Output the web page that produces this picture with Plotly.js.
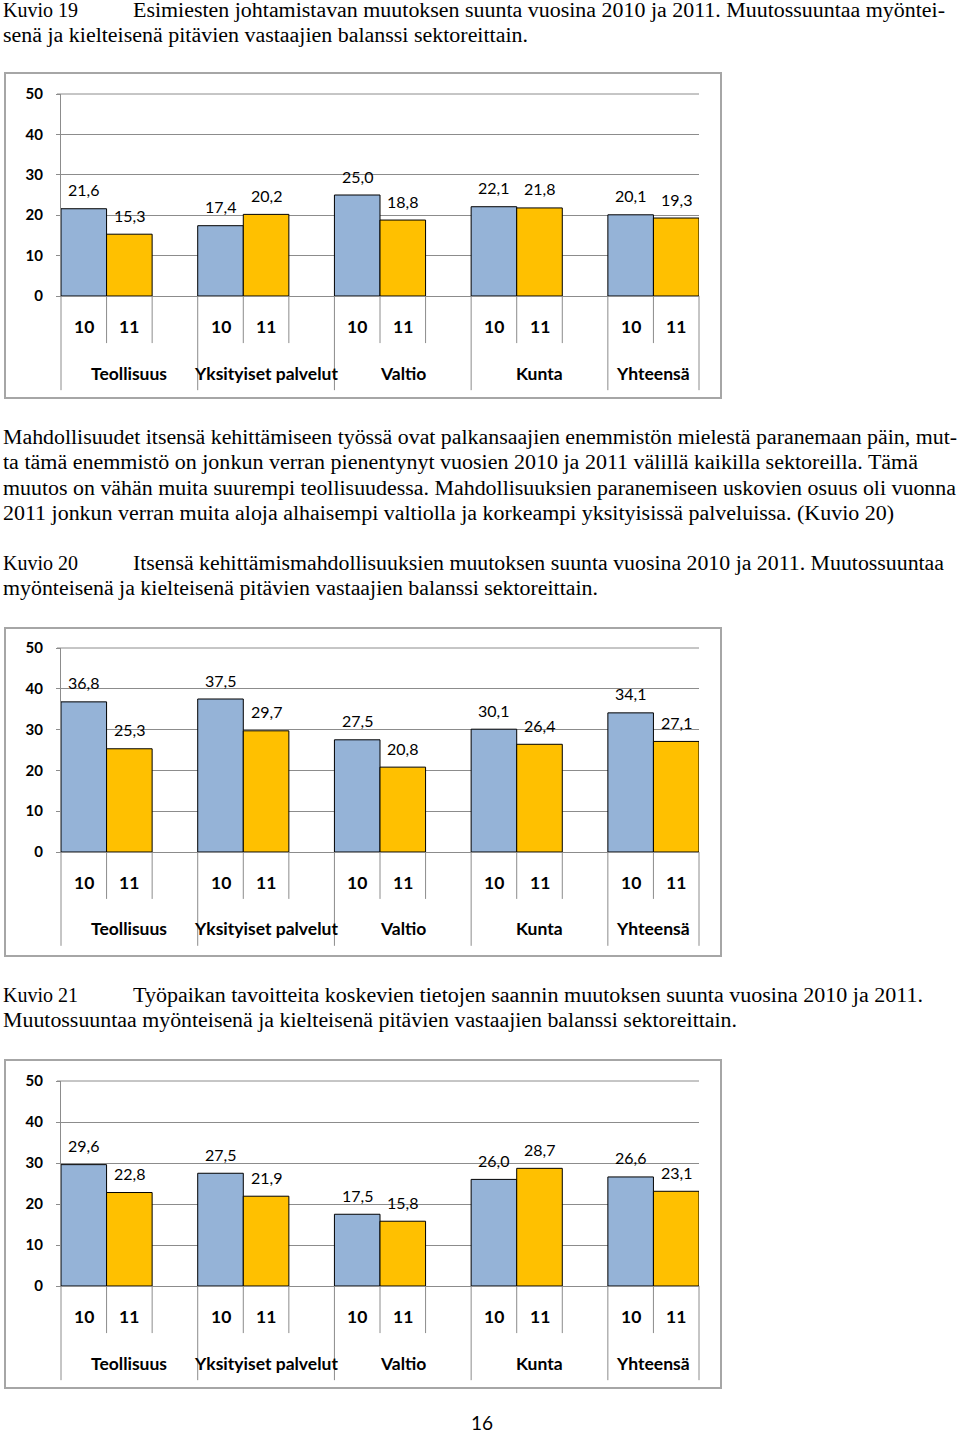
<!DOCTYPE html>
<html><head><meta charset="utf-8">
<script src="https://cdn.plot.ly/plotly-3.0.1.min.js"></script>
<style>
body{margin:0;width:960px;height:1434px;position:relative;background:#fff;overflow:hidden}
.t{position:absolute;font-family:"Liberation Serif","Times New Roman",serif;font-size:20px;line-height:25px;white-space:nowrap;color:#000;transform-origin:0 50%}
.frame{position:absolute;border:2px solid #A6A6A6;box-sizing:border-box;background:#fff}
.chart{position:absolute;left:0;width:730px}
.pg{position:absolute;font-family:Lato,sans-serif;font-size:19px;color:#000;line-height:24px}
</style></head><body>
<div class="frame" style="left:4px;top:72px;width:718px;height:327px"></div>
<div class="frame" style="left:4px;top:627px;width:718px;height:330px"></div>
<div class="frame" style="left:4px;top:1059px;width:718px;height:330px"></div>
<div id="c19" class="chart"></div>
<div id="c20" class="chart"></div>
<div id="c21" class="chart"></div>
<div class="pg" style="left:471px;top:1411px">16</div>
<script>
const sectors = ['Teollisuus', 'Yksityiset palvelut', 'Valtio', 'Kunta', 'Yhteensä'];
const years = ['10', '11'];
const kuvio19_2010 = [21.6, 17.4, 25.0, 22.1, 20.1];
const kuvio19_2011 = [15.3, 20.2, 18.8, 21.8, 19.3];
const kuvio20_2010 = [36.8, 37.5, 27.5, 30.1, 34.1];
const kuvio20_2011 = [25.3, 29.7, 20.8, 26.4, 27.1];
const kuvio21_2010 = [29.6, 27.5, 17.5, 26.0, 26.6];
const kuvio21_2011 = [22.8, 21.9, 15.8, 28.7, 23.1];
const yTicks = [0, 10, 20, 30, 40, 50];

const textLines = [
  ['Kuvio 19', 3, 10, 0],
  ['Esimiesten johtamistavan muutoksen suunta vuosina 2010 ja 2011. Muutossuuntaa myöntei-', 133, 10, 812],
  ['senä ja kielteisenä pitävien vastaajien balanssi sektoreittain.', 3, 35, 525],
  ['Mahdollisuudet itsensä kehittämiseen työssä ovat palkansaajien enemmistön mielestä paranemaan päin, mut-', 3, 437, 954],
  ['ta tämä enemmistö on jonkun verran pienentynyt vuosien 2010 ja 2011 välillä kaikilla sektoreilla. Tämä', 3, 462, 915],
  ['muutos on vähän muita suurempi teollisuudessa. Mahdollisuuksien paranemiseen uskovien osuus oli vuonna', 3, 488, 953],
  ['2011 jonkun verran muita aloja alhaisempi valtiolla ja korkeampi yksityisissä palveluissa. (Kuvio 20)', 3, 513, 891],
  ['Kuvio 20', 3, 563, 0],
  ['Itsensä kehittämismahdollisuuksien muutoksen suunta vuosina 2010 ja 2011. Muutossuuntaa', 133, 563, 811],
  ['myönteisenä ja kielteisenä pitävien vastaajien balanssi sektoreittain.', 3, 588, 595],
  ['Kuvio 21', 3, 995, 0],
  ['Työpaikan tavoitteita koskevien tietojen saannin muutoksen suunta vuosina 2010 ja 2011.', 133, 995, 790],
  ['Muutossuuntaa myönteisenä ja kielteisenä pitävien vastaajien balanssi sektoreittain.', 3, 1020, 734]
];
textLines.forEach(function (l) {
  const d = document.createElement('div');
  d.className = 't';
  d.textContent = l[0];
  d.style.left = l[1] + 'px';
  d.style.top = (l[2] - 12.5) + 'px';
  document.body.appendChild(d);
  if (l[3] > 0) {
    const w = d.getBoundingClientRect().width;
    d.style.transform = 'scaleX(' + (l[3] / w) + ')';
  }
});

const BLUE = '#95B3D7', YELLOW = '#FFC000', GRID = '#8C8C8C';
function fmt(v) { return v.toFixed(1).replace('.', ','); }

function drawChart(id, v10, v11, plotTop, plotH) {
  const div = document.getElementById(id);
  const mt = 34, mb = 120, plotW = 638;
  div.style.top = (plotTop - mt) + 'px';
  div.style.height = (mt + plotH + mb) + 'px';
  const nSlots = sectors.length * 3 - 1;
  const groupStart = sectors.map(function (s, i) { return i * 3; });
  const groupSlots = sectors.map(function (s, i) { return i === sectors.length - 1 ? 2 : 3; });
  const x10 = groupStart.map(function (g) { return g + 0.5; });
  const x11 = groupStart.map(function (g) { return g + 1.5; });
  const traces = [
    { type: 'bar', x: x10, y: v10, width: 1, name: '20' + years[0],
      marker: { color: BLUE, line: { color: '#000', width: 1 } }, hoverinfo: 'skip' },
    { type: 'bar', x: x11, y: v11, width: 1, name: '20' + years[1],
      marker: { color: YELLOW, line: { color: '#000', width: 1 } }, hoverinfo: 'skip' }
  ];
  const ann = [];
  const lblFont = { family: 'Lato, sans-serif', size: 16, color: '#000' };
  const boldFont = { family: 'Lato, sans-serif', size: 17.5, color: '#000', weight: 'bold' };
  [[x10, v10], [x11, v11]].forEach(function (p) {
    p[0].forEach(function (x, i) {
      ann.push({ x: x, y: p[1][i], xref: 'x', yref: 'y', text: fmt(p[1][i]), showarrow: false,
        yanchor: 'middle', xanchor: 'center', yshift: 19, font: lblFont });
    });
  });
  const subY = -30.4 / plotH, catY = -77 / plotH;
  groupStart.forEach(function (g, i) {
    years.forEach(function (yr, k) {
      ann.push({ x: g + k + 0.5, y: subY, xref: 'x', yref: 'paper', text: yr, showarrow: false,
        yanchor: 'middle', xanchor: 'center', font: boldFont });
    });
    ann.push({ x: g + groupSlots[i] / 2, y: catY, xref: 'x', yref: 'paper', text: sectors[i], showarrow: false,
      yanchor: 'middle', xanchor: 'center', font: boldFont });
  });
  const shapes = [];
  // top gridline (at the upper range edge) and its tick
  shapes.push({ type: 'line', xref: 'paper', yref: 'paper', x0: -4 / plotW, x1: 1, y0: 1, y1: 1,
    line: { color: GRID, width: 1 } });
  const majorEnd = -94 / plotH, subEnd = -47 / plotH;
  groupStart.concat([nSlots]).forEach(function (g) {
    shapes.push({ type: 'line', xref: 'paper', yref: 'paper', x0: g / nSlots, x1: g / nSlots, y0: 0, y1: majorEnd,
      line: { color: GRID, width: 1 } });
  });
  groupStart.forEach(function (g, i) {
    for (let k = 1; k < groupSlots[i]; k++) {
      shapes.push({ type: 'line', xref: 'paper', yref: 'paper', x0: (g + k) / nSlots, x1: (g + k) / nSlots, y0: 0, y1: subEnd,
        line: { color: GRID, width: 1 } });
    }
  });
  const layout = {
    width: 730, height: mt + plotH + mb,
    margin: { l: 61, r: 31, t: mt, b: mb, pad: 0 },
    paper_bgcolor: 'rgba(0,0,0,0)', plot_bgcolor: 'rgba(0,0,0,0)',
    showlegend: false, barmode: 'overlay',
    xaxis: { range: [0, nSlots], showgrid: false, zeroline: false, showticklabels: false,
      showline: true, linecolor: GRID, linewidth: 1, ticks: '', fixedrange: true },
    yaxis: { range: [0, 50], tickvals: yTicks, ticktext: yTicks.map(String), ticks: 'outside', ticklen: 4,
      tickcolor: GRID, tickwidth: 1, showline: true, linecolor: GRID, linewidth: 1,
      showgrid: true, gridcolor: GRID, gridwidth: 1, zeroline: false, ticklabelstandoff: 10,
      tickfont: { family: 'Lato, sans-serif', size: 15, color: '#000', weight: 'bold' }, fixedrange: true },
    annotations: ann, shapes: shapes
  };
  Plotly.newPlot(div, traces, layout, { staticPlot: true, displayModeBar: false });
}
drawChart('c19', kuvio19_2010, kuvio19_2011, 93.7, 201.6);
drawChart('c20', kuvio20_2010, kuvio20_2011, 648.3, 204.4);
drawChart('c21', kuvio21_2010, kuvio21_2011, 1080.7, 204.6);
</script>
</body></html>
